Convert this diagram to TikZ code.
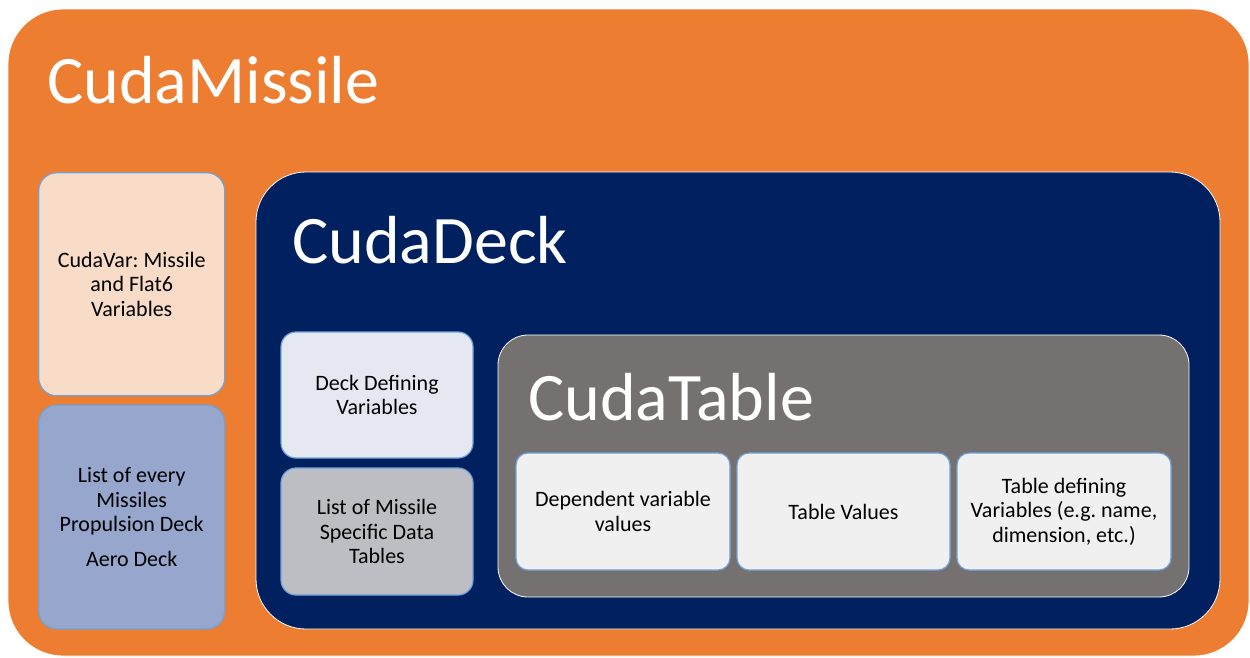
\documentclass[tikz,border=0pt]{standalone}
\usepackage{fontspec}
\setmainfont{Carlito}
\frenchspacing
\definecolor{cOrange}{HTML}{ED7D31}
\definecolor{cNavy}{HTML}{002060}
\definecolor{cGrey}{HTML}{767171}
\definecolor{cPeach}{HTML}{F9DCC7}
\definecolor{cBlueGrey}{HTML}{97A6CC}
\definecolor{cPale}{HTML}{E5E8F1}
\definecolor{cMidGrey}{HTML}{BDBEC3}
\definecolor{cLight}{HTML}{F0F0F0}
\definecolor{cEdge}{HTML}{6FA3D8}
\tikzset{
  container/.style={rectangle, draw=white, line width=0.8pt, inner sep=0pt},
  smallbox/.style={rectangle, draw=cEdge, line width=1.2pt, inner sep=2pt, align=center,
    text=black, font=\fontsize{22}{24.5}\selectfont},
  title/.style={anchor=base west, inner sep=0pt, text=white, font=\fontsize{68}{80}\selectfont}
}
\begin{document}
\begin{tikzpicture}[x=1pt,y=-1pt]
\useasboundingbox (0,0) rectangle (1250,657);
\fill[white] (0,0) rectangle (1250,657);
% outer container
\node[container, fill=cOrange, rounded corners=55pt, minimum width=1241pt, minimum height=647pt] (missile) at (628.5,332.5) {};
\node[title] (missileT) at (47,103) {CudaMissile};
% left column
\node[smallbox, fill=cPeach, rounded corners=18pt, minimum width=186pt, minimum height=223pt] (var) at (131.75,284.3) {CudaVar: Missile\\and Flat6\\Variables};
\node[smallbox, fill=cBlueGrey, rounded corners=18pt, minimum width=186pt, minimum height=224pt] (list) at (131.75,517) {List of every\\Missiles\\Propulsion Deck\\[10pt]Aero Deck};
% deck container
\node[container, fill=cNavy, rounded corners=50pt, minimum width=964pt, minimum height=457pt] (deck) at (738,400.5) {};
\node[title] (deckT) at (292,263) {CudaDeck};
\node[smallbox, fill=cPale, rounded corners=15pt, minimum width=192pt, minimum height=126pt] (deckvars) at (377,395) {Deck Defining\\Variables};
\node[smallbox, fill=cMidGrey, rounded corners=15pt, minimum width=192pt, minimum height=127pt] (tables) at (377,531.5) {List of Missile\\Specific Data\\Tables};
% table container
\node[container, fill=cGrey, rounded corners=30pt, minimum width=691pt, minimum height=262pt] (table) at (843.5,466) {};
\node[title] (tableT) at (528,420) {CudaTable};
\node[smallbox, fill=cLight, rounded corners=12pt, minimum width=214pt, minimum height=117pt] (dep) at (623,511.5) {Dependent variable\\values};
\node[smallbox, fill=cLight, rounded corners=12pt, minimum width=213pt, minimum height=117pt] (vals) at (843.5,511.5) {Table Values};
\node[smallbox, fill=cLight, rounded corners=12pt, minimum width=214pt, minimum height=117pt] (tdef) at (1064,511.5) {Table defining\\Variables (e.g. name,\\dimension, etc.)};
\end{tikzpicture}
\end{document}
